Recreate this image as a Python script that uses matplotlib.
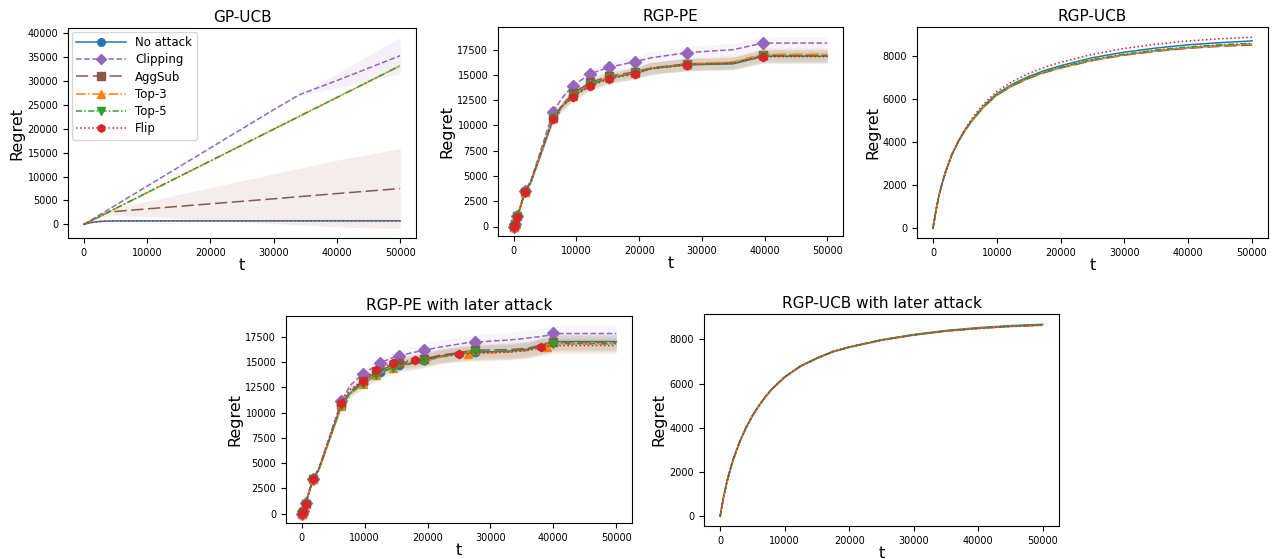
"""Cumulative regret of GP-UCB / RGP-PE / RGP-UCB under different attacks."""
import matplotlib
matplotlib.use("Agg")
import matplotlib.pyplot as plt
from matplotlib.lines import Line2D
import numpy as np

# ---------------- data ----------------
labels = ["No attack", "Clipping", "AggSub", "Top-3", "Top-5", "Flip"]

# GP-UCB
t_gp = [0, 1000, 2000, 3000, 4000, 5000, 10000, 20000, 30000, 34000, 40000, 50000]
gp_noattack = [0, 350, 550, 650, 700, 720, 730, 740, 740, 740, 740, 740]
gp_clipping = [0, 800, 1600, 2400, 3200, 4000, 8000, 16000, 24000, 27100, 30100, 35300]
gp_aggsub = [0, 700, 1350, 2000, 2600, 2700, 3250, 4300, 5350, 5800, 6450, 7500]
gp_top3 = [0, 660, 1330, 2000, 2650, 3320, 6640, 13280, 19920, 22580, 26560, 33200]
gp_top5 = [0, 660, 1330, 2000, 2650, 3320, 6640, 13280, 19920, 22580, 26560, 33200]
gp_flip = [0, 350, 550, 650, 700, 720, 730, 740, 740, 740, 740, 740]
gp_sd_small = [0, 20, 30, 40, 50, 50, 50, 50, 50, 50, 50, 50]
gp_sd_clipping = [0, 0, 0, 0, 0, 0, 50, 80, 100, 150, 1500, 3800]
gp_sd_aggsub = [0, 150, 300, 400, 500, 700, 1600, 3400, 5200, 5900, 7000, 8350]

# RGP-PE
t_pe = [0, 150, 600, 1800, 2750, 6300, 7700, 9500, 12200, 15200, 19300, 22000,
        27600, 35000, 39800, 50000]
pe_marks = [0, 1, 2, 3, 5, 7, 8, 9, 10, 12, 14]
pe_noattack = [0, 200, 1000, 3430, 4460, 10700, 11900, 12950, 14050, 14700, 15150,
               15650, 16000, 16100, 16850, 16850]
pe_clipping = [0, 250, 1060, 3500, 4550, 11350, 12700, 13950, 15100, 15760, 16300,
               16700, 17200, 17500, 18150, 18150]
pe_aggsub = [0, 200, 1000, 3430, 4460, 10750, 12000, 13200, 14250, 14850, 15300,
             15700, 16100, 16200, 16950, 16950]
pe_top3 = [0, 200, 1000, 3430, 4460, 10700, 11900, 12950, 14100, 14750, 15200,
           15650, 16050, 16300, 17050, 17050]
pe_top5 = [0, 200, 1000, 3430, 4460, 10700, 11900, 12900, 14000, 14700, 15150,
           15650, 16000, 16150, 16850, 16850]
pe_flip = [0, 150, 950, 3380, 4430, 10600, 11850, 12850, 13900, 14600, 15100,
           15600, 16000, 16150, 16800, 16800]
pe_sd = [0, 50, 100, 180, 220, 350, 400, 450, 500, 520, 550, 580, 600, 620, 650, 650]

# RGP-UCB
t_ucb = [0, 500, 1000, 1500, 2000, 3000, 4000, 5000, 6000, 7000, 8000, 10000,
         12500, 15000, 17500, 20000, 25000, 30000, 35000, 40000, 45000, 50000]
ucb_noattack = [0, 880, 1600, 2150, 2650, 3450, 4050, 4550, 4980, 5350, 5700, 6250,
                6700, 7050, 7330, 7550, 7920, 8180, 8370, 8520, 8620, 8700]
ucb_clipping = [0, 880, 1600, 2150, 2650, 3450, 4050, 4540, 4960, 5320, 5660, 6200,
                6640, 6980, 7250, 7460, 7810, 8060, 8240, 8380, 8480, 8540]
ucb_aggsub = [0, 880, 1600, 2150, 2650, 3450, 4050, 4530, 4950, 5300, 5640, 6180,
              6620, 6960, 7230, 7440, 7790, 8040, 8220, 8360, 8450, 8510]
ucb_top3 = [0, 880, 1600, 2150, 2650, 3450, 4050, 4540, 4960, 5320, 5660, 6200,
            6640, 6980, 7250, 7460, 7810, 8060, 8250, 8390, 8490, 8560]
ucb_top5 = [0, 880, 1600, 2150, 2650, 3450, 4050, 4545, 4970, 5330, 5680, 6220,
            6660, 7000, 7270, 7480, 7840, 8090, 8280, 8420, 8520, 8590]
ucb_flip = [0, 880, 1600, 2150, 2650, 3450, 4070, 4600, 5050, 5440, 5790, 6360,
            6830, 7190, 7480, 7710, 8080, 8350, 8550, 8700, 8800, 8870]
ucb_sd = [0, 20, 30, 30, 30, 30, 30, 30, 30, 30, 30, 30, 30, 30, 30, 30, 30, 30, 30,
          30, 30, 30]

# RGP-PE with later attack
t_pel = [0, 150, 600, 1800, 2750, 6300, 7700, 9700, 11800, 12400, 14500, 15500, 18000,
         19500, 22000, 25000, 26500, 27600, 33000, 36000, 38000, 39000, 40000, 50000]
pel_noattack = [0, 200, 1000, 3400, 4450, 10750, 11950, 12900, 13700, 14000, 14500, 14700,
                15000, 15200, 15600, 15850, 15950, 16000, 16100, 16300, 16600, 16800,
                17050, 17050]
pel_clipping = [0, 250, 1050, 3420, 4550, 11150, 12700, 13850, 14650, 14950, 15450, 15650,
                16000, 16190, 16500, 16800, 16950, 17000, 17200, 17400, 17550, 17650,
                17850, 17850]
pel_aggsub = [0, 200, 1000, 3400, 4450, 10800, 12100, 13100, 14000, 14200, 14700, 14900,
              15150, 15310, 15700, 15950, 16100, 16190, 16250, 16400, 16700, 16900,
              17000, 17000]
pel_top3 = [0, 200, 1000, 3400, 4450, 10700, 11900, 12800, 13700, 13900, 14470, 14600,
            14900, 15050, 15500, 15700, 15770, 15850, 16000, 16150, 16400, 16520,
            16800, 16800]
pel_top5 = [0, 200, 1000, 3400, 4450, 10700, 11900, 12850, 13700, 13950, 14450, 14650,
            14950, 15100, 15550, 15800, 15900, 16000, 16100, 16250, 16550, 16700,
            16850, 16850]
pel_flip = [0, 150, 950, 3380, 4430, 11000, 12300, 13170, 14240, 14400, 14890, 15000,
            15210, 15300, 15600, 15770, 15850, 15900, 16000, 16200, 16520, 16580,
            16650, 16650]
pel_marks = [[0, 1, 2, 3, 5, 7, 9, 11, 13, 17, 22],
             [0, 1, 2, 3, 5, 7, 9, 11, 13, 17, 22],
             [0, 1, 2, 3, 5, 7, 8, 11, 13, 17, 22],
             [0, 1, 2, 3, 5, 7, 8, 10, 16, 21],
             [0, 1, 2, 3, 5, 7, 8, 10, 13, 17, 22],
             [0, 1, 2, 3, 5, 7, 8, 10, 12, 15, 20]]
pel_sd = [0, 50, 100, 180, 220, 350, 400, 450, 500, 520, 550, 580, 620, 650, 680, 700,
          720, 750, 750, 780, 800, 800, 800, 800]

# RGP-UCB with later attack
ucbl_noattack = [0, 820, 1500, 2050, 2550, 3350, 4000, 4550, 5000, 5400, 5750, 6300,
                 6800, 7150, 7450, 7650, 7980, 8220, 8400, 8530, 8620, 8680]
ucbl_attacked = [0, 820, 1500, 2050, 2550, 3350, 4000, 4550, 5000, 5400, 5750, 6300,
                 6800, 7150, 7450, 7650, 7970, 8200, 8380, 8500, 8590, 8650]

# ---------------- styles ----------------
colors = ["C0", "C4", "C5", "C1", "C2", "C3"]
styles = ["-", "--", (0, (8, 3)), "-.", (0, (4, 1.5, 1, 1.5)), ":"]
markers = ["o", "D", "s", "^", "v", "h"]

plt.rcParams["font.family"] = "DejaVu Sans"
plt.rcParams["xtick.labelsize"] = 7
plt.rcParams["ytick.labelsize"] = 7

fig = plt.figure(figsize=(12.77, 5.59), dpi=100)
W, H = 1277, 559


def px_axes(left, top, right, bottom):
    return fig.add_axes([left / W, 1 - bottom / H, (right - left) / W, (bottom - top) / H])


def panel(ax, t, series, sds, title, marks=None, alpha=0.07):
    for i, y in enumerate(series):
        y = np.asarray(y, dtype=float)
        sd = np.asarray(sds[i], dtype=float)
        ax.fill_between(t, y - sd, y + sd, color=colors[i], alpha=alpha, lw=0)
    for i, y in enumerate(series):
        kw = {}
        if marks is not None:
            kw = dict(marker=markers[i], markersize=6, markevery=marks[i])
        ax.plot(t, y, color=colors[i], linestyle=styles[i], lw=1.1, **kw)
    ax.set_title(title, fontsize=11, pad=4)
    ax.set_xlabel("t", fontsize=11.5, labelpad=0)
    ax.set_ylabel("Regret", fontsize=11.5, labelpad=2)
    ax.set_xticks([0, 10000, 20000, 30000, 40000, 50000])


ax1 = px_axes(68, 28, 416, 238)
panel(ax1, t_gp,
      [gp_noattack, gp_clipping, gp_aggsub, gp_top3, gp_top5, gp_flip],
      [gp_sd_small, gp_sd_clipping, gp_sd_aggsub, gp_sd_small, gp_sd_small, gp_sd_small],
      "GP-UCB", alpha=0.1)
handles = [Line2D([], [], color=colors[i], linestyle=styles[i], lw=1.1,
                  marker=markers[i], markersize=5.5) for i in range(6)]
ax1.legend(handles, labels, loc="upper left", fontsize=8.5, handlelength=4.2,
           borderaxespad=0.3, labelspacing=0.35)

ax2 = px_axes(498, 27, 843, 236)
panel(ax2, t_pe,
      [pe_noattack, pe_clipping, pe_aggsub, pe_top3, pe_top5, pe_flip],
      [pe_sd] * 6, "RGP-PE", marks=[pe_marks] * 6)

ax3 = px_axes(917, 27, 1268, 238)
panel(ax3, t_ucb,
      [ucb_noattack, ucb_clipping, ucb_aggsub, ucb_top3, ucb_top5, ucb_flip],
      [ucb_sd] * 6, "RGP-UCB")

ax4 = px_axes(286, 316, 632, 523)
panel(ax4, t_pel,
      [pel_noattack, pel_clipping, pel_aggsub, pel_top3, pel_top5, pel_flip],
      [pel_sd] * 6, "RGP-PE with later attack", marks=pel_marks)

ax5 = px_axes(704, 314, 1059, 526)
panel(ax5, t_ucb,
      [ucbl_noattack] + [ucbl_attacked] * 5,
      [ucb_sd] * 6, "RGP-UCB with later attack")

fig.savefig("out.png", dpi=100)
